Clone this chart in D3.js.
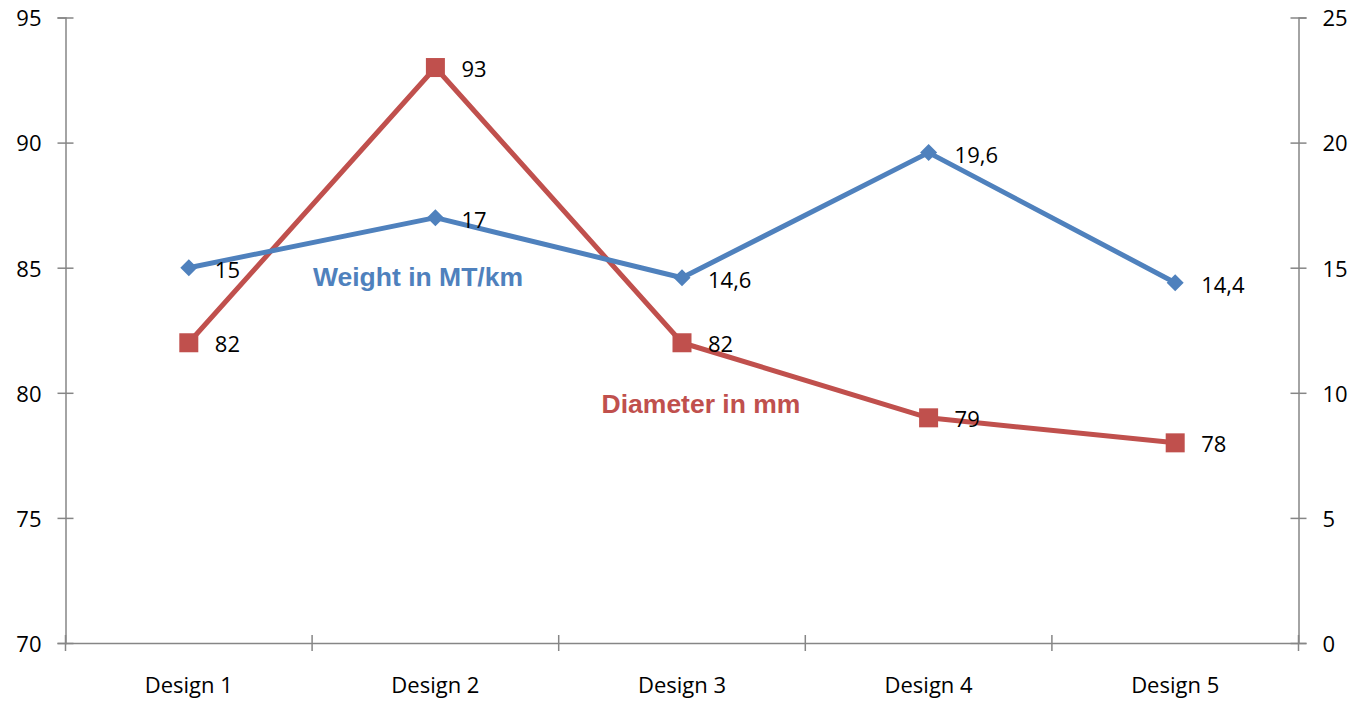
<!DOCTYPE html>
<html>
<head>
<meta charset="utf-8">
<script src="https://cdn.jsdelivr.net/npm/d3@7"></script>
<style>
  html, body { margin: 0; padding: 0; background: #fff; }
  svg { display: block; }
  .tick text { font-family: "Open Sans", sans-serif; font-size: 22px; fill: #000; }
</style>
</head>
<body>
<svg id="chart" width="1359" height="703"></svg>
<script>
// Chart data
const categories = ["Design 1", "Design 2", "Design 3", "Design 4", "Design 5"];
const diameter = [82, 93, 82, 79, 78];          // left axis (mm)
const weight = [15, 17, 14.6, 19.6, 14.4];       // right axis (MT/km)
const leftTicks = [70, 75, 80, 85, 90, 95];
const rightTicks = [0, 5, 10, 15, 20, 25];

const svg = d3.select("#chart");
const plotLeft = 65.5, plotRight = 1298.5, plotTop = 17.5, plotBottom = 643;
const axisColor = "#868686";
const red = "#C0504D", blue = "#4F81BD";

const x = d3.scaleBand().domain(categories).range([plotLeft, plotRight]);
const yL = d3.scaleLinear().domain([70, 95]).range([plotBottom, plotTop]);
const yR = d3.scaleLinear().domain([0, 25]).range([plotBottom, plotTop]);
const cx = d => x(d) + x.bandwidth() / 2;

// Axes
const gL = svg.append("g").attr("transform", `translate(${plotLeft},0)`)
  .call(d3.axisLeft(yL).tickValues(leftTicks).tickSize(8).tickPadding(16).tickFormat(d3.format("d")));
const gR = svg.append("g").attr("transform", `translate(${plotRight},0)`)
  .call(d3.axisRight(yR).tickValues(rightTicks).tickSize(8).tickPadding(16).tickFormat(d3.format("d")));
const gX = svg.append("g").attr("transform", `translate(0,${plotBottom})`)
  .call(d3.axisBottom(x).tickSize(0).tickPadding(34));

[gL, gR, gX].forEach(g => {
  g.select(".domain").attr("stroke", axisColor).attr("stroke-width", 1.5);
  g.selectAll(".tick line").attr("stroke", axisColor).attr("stroke-width", 1.5);
});
// cross-style ticks on the value axes
gL.selectAll(".tick line").attr("x1", 8).attr("x2", -8);
gR.selectAll(".tick line").attr("x1", -8).attr("x2", 8);
gL.selectAll(".tick text").attr("dy", "0.38em");
gR.selectAll(".tick text").attr("dy", "0.38em");

// Category boundary ticks on the x axis
const bounds = categories.map(c => x(c)).concat([x(categories[categories.length - 1]) + x.bandwidth()]);
gX.selectAll(".bound").data(bounds).enter().append("line")
  .attr("x1", d => d).attr("x2", d => d).attr("y1", -8).attr("y2", 8)
  .attr("stroke", axisColor).attr("stroke-width", 1.5);

// Diameter series (left axis)
const lineL = d3.line().x((d, i) => cx(categories[i])).y(d => yL(d));
svg.append("path").datum(diameter).attr("d", lineL)
  .attr("fill", "none").attr("stroke", red).attr("stroke-width", 5).attr("stroke-linejoin", "round");
svg.selectAll(".sq").data(diameter).enter().append("rect")
  .attr("x", (d, i) => cx(categories[i]) - 9.5).attr("y", d => yL(d) - 9.5)
  .attr("width", 19).attr("height", 19).attr("fill", red);

// Weight series (right axis)
const lineR = d3.line().x((d, i) => cx(categories[i])).y(d => yR(d));
svg.append("path").datum(weight).attr("d", lineR)
  .attr("fill", "none").attr("stroke", blue).attr("stroke-width", 5).attr("stroke-linejoin", "round");
svg.selectAll(".dm").data(weight).enter().append("path")
  .attr("transform", (d, i) => `translate(${cx(categories[i])},${yR(d)})`)
  .attr("d", "M0,-8.5L8.5,0L0,8.5L-8.5,0Z").attr("fill", blue);

// Data labels
const fmt = v => String(v).replace(".", ",");
const labelStyle = s => s.attr("font-family", "Open Sans, sans-serif").attr("font-size", 22)
  .attr("fill", "#000").attr("dy", "0.38em");
svg.selectAll(".lblL").data(diameter).enter().append("text")
  .attr("x", (d, i) => cx(categories[i]) + 26).attr("y", d => yL(d) + 1)
  .text(fmt).call(labelStyle);
svg.selectAll(".lblR").data(weight).enter().append("text")
  .attr("x", (d, i) => cx(categories[i]) + 26).attr("y", d => yR(d) + 2)
  .text(fmt).call(labelStyle);

// Series names
svg.append("text").attr("x", 418).attr("y", 286).attr("text-anchor", "middle")
  .attr("font-family", "Liberation Sans, Arial, sans-serif").attr("font-weight", "bold")
  .attr("font-size", 26.5).attr("fill", blue).text("Weight in MT/km");
svg.append("text").attr("x", 701).attr("y", 413).attr("text-anchor", "middle")
  .attr("font-family", "Liberation Sans, Arial, sans-serif").attr("font-weight", "bold")
  .attr("font-size", 26.5).attr("fill", red).text("Diameter in mm");
</script>
</body>
</html>
